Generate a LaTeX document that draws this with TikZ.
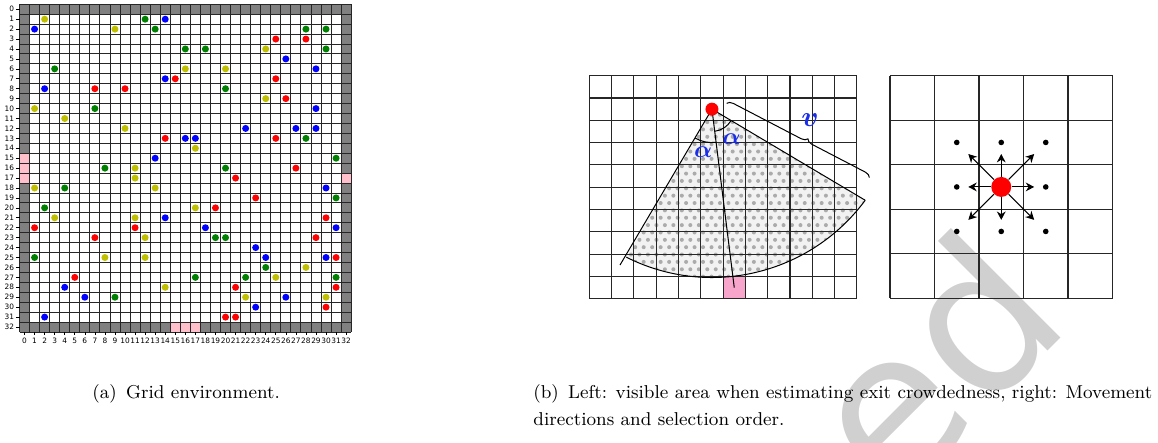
\documentclass[tikz,border=0pt]{standalone}
\usepackage{fontspec}
\usepackage{bm}
\usepackage{tikz}
\usetikzlibrary{arrows.meta,decorations.pathreplacing,calc}
\newfontfamily\tickfont{DejaVu Sans}
\newfontfamily\markfont{DejaVu Sans}
\definecolor{wall}{RGB}{128,128,128}
\definecolor{exitpink}{RGB}{255,192,203}
\definecolor{exitcell}{RGB}{248,165,204}
\definecolor{agentb}{RGB}{0,0,255}
\definecolor{agentg}{RGB}{0,128,0}
\definecolor{agentr}{RGB}{255,0,0}
\definecolor{agenty}{RGB}{191,191,0}
\definecolor{penblue}{RGB}{25,45,235}
\definecolor{markgray}{RGB}{208,208,208}

\begin{document}
\begin{tikzpicture}[x=0.5pt,y=-0.5pt,>={Stealth[length=4.2pt,width=4.4pt]},every node/.style={inner sep=0pt}]
\tikzstyle{cellline}=[draw=black!85,line width=0.45pt]
\tikzstyle{gridline}=[draw=black!85,line width=0.55pt]
\tikzstyle{ticklabel}=[font=\tickfont\fontsize{3.7}{4}\selectfont]
\tikzstyle{walker}=[circle,fill=agentr,minimum size=10pt]
\tikzstyle{target}=[circle,fill=black,minimum size=2.8pt]
\tikzstyle{penlabel}=[text=penblue,font=\fontsize{12}{12}\selectfont]
\tikzstyle{captext}=[font=\fontsize{9.3}{13}\selectfont,anchor=base west]
\useasboundingbox (0,0) rectangle (1158,443);

% watermark, behind everything
\node[rotate=45,text=markgray,font=\markfont\fontsize{102}{102}\selectfont,anchor=base east] (wmark) at (1074,325) {ed};

% (a) grid environment
\begin{scope}[shift={(19.5,4.3)},x=5.025pt,y=-4.965pt]
\foreach \i in {0,...,32} {
  \fill[wall] (\i,0) rectangle ++(1,1) (\i,32) rectangle ++(1,1)
              (0,\i) rectangle ++(1,1) (32,\i) rectangle ++(1,1);
}
\foreach \c/\r in {0/15,0/16,0/17,32/17,15/32,16/32,17/32}
  \fill[exitpink] (\c,\r) rectangle ++(1,1);
\foreach \i in {0,...,33} {
  \draw[cellline] (\i,0) -- (\i,33);
  \draw[cellline] (0,\i) -- (33,\i);
}
\foreach \c/\r in {14/1,1/2,26/5,29/6,14/7,2/8,29/10,22/12,27/12,29/12,16/13,17/13,13/15,
    30/18,14/21,18/22,31/22,23/24,24/25,30/25,4/28,6/29,26/29,23/30,2/31}
  \fill[agentb] (\c+0.5,\r+0.5) circle (1.75pt);
\foreach \c/\r in {12/1,13/2,28/2,30/2,16/4,18/4,30/4,3/6,20/8,7/10,28/13,31/15,8/16,
    20/16,4/18,31/19,2/20,19/23,20/23,1/25,24/26,17/27,22/27,31/27,9/29}
  \fill[agentg] (\c+0.5,\r+0.5) circle (1.75pt);
\foreach \c/\r in {25/3,28/3,15/7,25/7,7/8,10/8,26/9,14/13,25/13,27/16,21/17,19/20,30/21,
    1/22,11/22,7/23,29/23,23/19,31/25,5/27,21/28,31/28,30/30,20/31,21/31}
  \fill[agentr] (\c+0.5,\r+0.5) circle (1.75pt);
\foreach \c/\r in {2/1,9/2,24/4,16/6,20/6,24/9,1/10,4/11,10/12,17/14,11/16,11/17,1/18,
    13/18,17/20,3/21,11/21,12/23,8/25,12/25,28/26,25/27,14/28,22/29,30/29}
  \fill[agenty] (\c+0.5,\r+0.5) circle (1.75pt);
\foreach \i in {0,...,32} {
  \draw[line width=0.3pt] (-0.35,\i+0.5) -- (0,\i+0.5);
  \draw[line width=0.3pt] (\i+0.5,33) -- (\i+0.5,33.35);
  \node[ticklabel,anchor=east] (row\i) at (-0.5,\i+0.5) {\i};
  \node[ticklabel,anchor=north] (col\i) at (\i+0.5,33.6) {\i};
}
\end{scope}

% (b) left: visible area
\begin{scope}[shift={(589.3,75.7)},x=11.15pt,y=-11.15pt]
\coordinate (eye) at (5.5,1.5);
\coordinate (hub) at (5.5,0.5);
\coordinate (arcL) at ($(hub)+(116.7:8.55)$);
\coordinate (arcR) at ($(hub)+(36.5:8.55)$);
\coordinate (edgeL) at (1.377,8.49);
\coordinate (exitc) at (6.5,9.5);
\fill[exitcell] (6,9) rectangle (7,10);
\begin{scope}
\clip (eye) -- (arcL) arc[start angle=116.7,end angle=36.5,radius=8.55] -- cycle;
\fill[black!5] (eye) -- (arcL) arc[start angle=116.7,end angle=36.5,radius=8.55] -- cycle;
\foreach \j in {0,...,24}
  \foreach \i in {0,...,29}
    \fill[black!33] ({1.3+0.38*\i+0.19*mod(\j,2)},{1.75+0.33*\j}) circle (1pt);
\end{scope}
\foreach \i in {0,...,12} \draw[gridline] (\i,0) -- (\i,10);
\foreach \j in {0,...,10} \draw[gridline] (0,\j) -- (12,\j);
\draw[line width=0.5pt] (eye) -- (edgeL);
\draw[line width=0.5pt] (eye) -- (exitc);
\draw[line width=0.5pt] (eye) -- (arcR);
\draw[line width=0.5pt] (arcL) arc[start angle=116.7,end angle=36.5,radius=8.55];
\draw[line width=0.5pt] ($(eye)+(82.9:1.5)$) arc[start angle=82.9,end angle=120.5,radius=1.5];
\draw[line width=0.5pt] ($(eye)+(30.7:1.0)$) arc[start angle=30.7,end angle=82.9,radius=1.0];
\draw[line width=0.5pt,decorate,decoration={brace,amplitude=3pt,aspect=0.55}] (6.16,1.24) -- (12.56,4.57);
\node[penlabel] (alphaL) at (5.11,3.41) {$\bm{\alpha}$};
\node[penlabel] (alphaR) at (6.39,2.84) {$\bm{\alpha}$};
\node[penlabel,font=\fontsize{15}{15}\selectfont] (range) at (9.9,1.99) {$\bm{v}$};
\node[circle,fill=agentr,minimum size=6.5pt] (eyedot) at (eye) {};
\end{scope}

% (b) right: movement directions
\begin{scope}[shift={(890,75.7)},x=22.25pt,y=-22.25pt]
\foreach \i in {0,...,5} {
  \draw[gridline] (\i,0) -- (\i,5);
  \draw[gridline] (0,\i) -- (5,\i);
}
\foreach \dx/\dy [count=\k] in {-1/-1,0/-1,1/-1,-1/0,1/0,-1/1,0/1,1/1} {
  \node[target] (cell\k) at (2.5+\dx,2.5+\dy) {};
  \coordinate (tip\k) at (2.5+0.74*\dx,2.5+0.74*\dy);
}
\node[walker] (agent) at (2.5,2.5) {};
\foreach \k in {1,...,8} \draw[->,line width=0.5pt] (agent) -- (tip\k);
\end{scope}

\node[captext] (capa) at (92,399) {(a)\hspace{0.5em}Grid environment.};
\node[captext] (capb) at (533,399) {(b)\hspace{0.5em}Left: visible area when estimating exit crowdedness, right: Movement};
\node[captext] (capb2) at (533,426) {directions and selection order.};
\end{tikzpicture}
\end{document}
